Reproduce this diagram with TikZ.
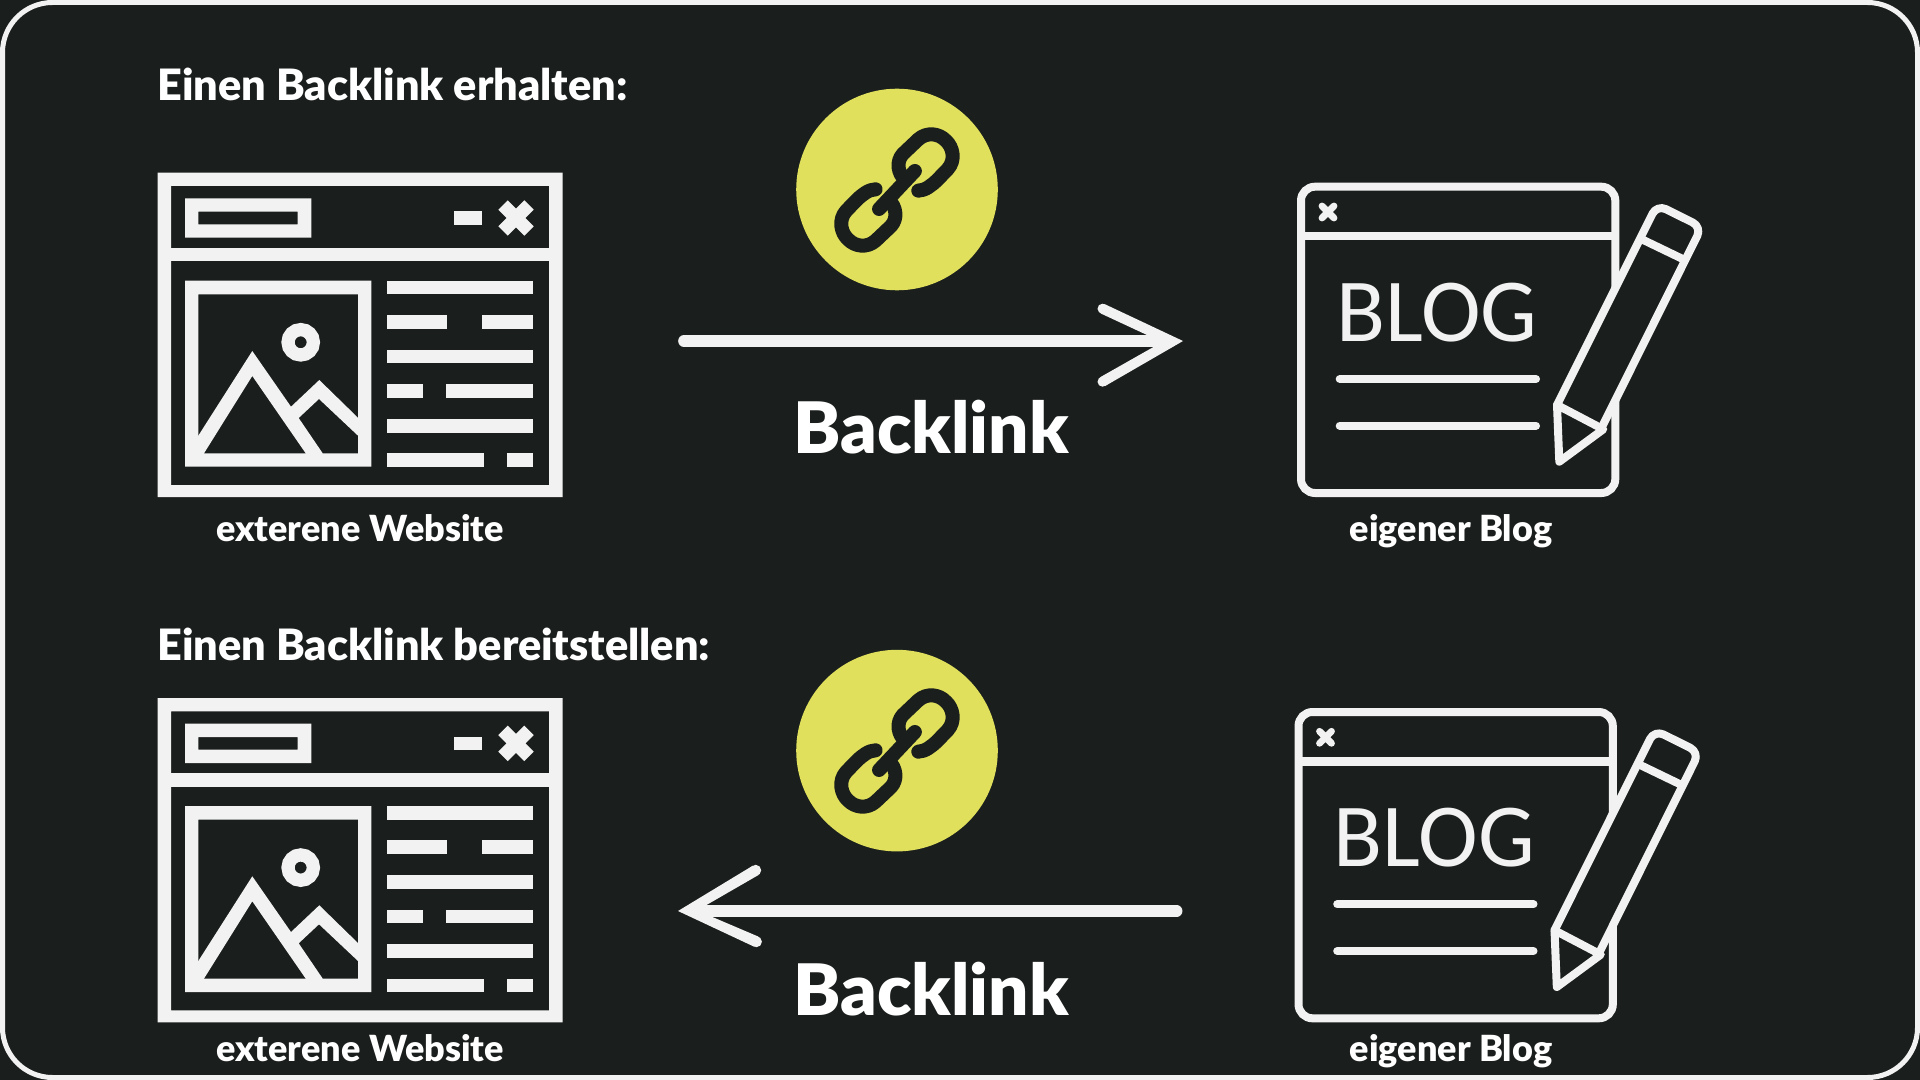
\documentclass[tikz,border=0pt]{standalone}
\usepackage{fontspec}
\setmainfont{Lato}[BoldFont={Lato Black}]
\definecolor{bgc}{HTML}{1A1E1D}
\definecolor{fgc}{HTML}{F2F2F2}
\definecolor{yel}{HTML}{E0E05C}
\newcommand{\zz}[1]{\fontsize{#1}{#1}\selectfont}
\tikzset{
 thin/.style={fgc,line width=4pt,line cap=round,line join=round},
 ttl/.style={anchor=base west,inner sep=0,text=white,font=\bfseries\zz{21.6}},
 lab/.style={anchor=base,inner sep=0,text=white,font=\bfseries\zz{18}},
 big/.style={anchor=base,inner sep=0,text=white,font=\bfseries\zz{35.5}},
 blogt/.style={anchor=base,inner sep=0,text=fgc,font=\fontspec{Carlito}\zz{45}},
 shaft/.style={fgc,line width=5.85pt,line cap=round},
 pics/website/.style={code={
  \fill[fgc,even odd rule] (157.5,172.7) rectangle (562.7,497) (171,186) rectangle (549,485);
  \fill[fgc] (171,248) rectangle (549,261.3);
  \fill[fgc,even odd rule] (185,198.3) rectangle (311.3,237.7) (198.3,211.7) rectangle (297.7,224.3);
  \fill[fgc] (454,211.3) rectangle (481.7,224.7);
  \draw[fgc,line width=6.7pt] (503,205) -- (529,231) (529,205) -- (503,231);
  \fill[fgc,even odd rule] (185,280.7) rectangle (371.3,466.7) (198.3,294.3) rectangle (358,453.3);
  \foreach \ya/\yb/\xa/\xb in {280.7/294.3/387/533,315/328.7/387/446.7,315/328.7/482/533,349.7/363.3/387/533,384.3/398/387/423.3,384.3/398/446.3/533,419/432.7/387/533,453.3/466.7/387/484,453.3/466.7/507/533}
   \fill[fgc] (\xa,\ya) rectangle (\xb,\yb);
  \draw[fgc,line width=6.6pt] (300.7,342.3) circle (12.7);
  \fill[fgc] (196,437) -- (198.3,435.7) -- (252.3,351) -- (291,406.7) -- (319.3,380) -- (360,419.7) -- (360,437.5) -- (358,435.7) -- (319,399) -- (298.7,418) -- (322.7,453.3) -- (322.7,456) -- (305.7,456) -- (305.7,453.3) -- (252.3,376) -- (204,453.3) -- (204,456) -- (196,456) -- cycle;
 }},
 pics/blogicon/.style={code={
  \draw[fgc,line width=4pt,rounded corners=7pt] (1301,186.7) rectangle (1615.3,493);
  \draw[fgc,line width=4.2pt] (1301,236.3) -- (1615.3,236.3);
  \draw[fgc,line width=3.4pt,line cap=round] (1322,206) -- (1334,218) (1334,206) -- (1322,218);
  \draw[thin] (1339.7,379) -- (1536,379) (1339.7,425.7) -- (1536,425.7);
  \fill[bgc] (1557,405) -- (1657,204.7) -- (1701.7,227) -- (1601.3,428.3) -- cycle;
  \draw[thin,rounded corners=5pt] (1557,405) -- (1657,204.7) -- (1701.7,227) -- (1601.3,428.3);
  \draw[thin,fill=bgc] (1557,405) -- (1559.3,461.7) -- (1603.3,429.3) -- cycle;
  \draw[thin] (1643.3,240) -- (1683.3,259.3);
 }},
 pics/chain/.style={code={
  \begin{scope}[xscale=0.3444,yscale=0.3333,bgc,line width=7pt,line cap=round,line join=round]
   \draw (750,362) .. controls (770,362) and (790,345) .. (805,330) -- (835,298) .. controls (860,270) and (850,230) .. (830,212) .. controls (810,190) and (775,185) .. (750,208) -- (705,252) .. controls (685,275) and (690,310) .. (712,330);
   \draw (626,358) .. controls (606,358) and (586,375) .. (571,390) -- (541,422) .. controls (516,450) and (526,490) .. (546,508) .. controls (566,530) and (601,535) .. (626,512) -- (671,468) .. controls (691,445) and (686,410) .. (664,390);
   \draw (740,303) -- (636,417);
  \end{scope}
 }},
 pics/headr/.style={code={
  \fill[fgc] (1183,341) -- (1104.8,386.2) -- (1100.2,377.2) -- (1154,346.7) -- (1147,335) -- (1100.6,313.4) -- (1104.4,304) -- cycle;
  \fill[fgc] (1102.5,308.7) circle (5) (1102.5,381.7) circle (5);
 }},
 pics/headl/.style={code={
  \fill[fgc] (678,911) -- (753.1,865.5) -- (758.3,875.1) -- (706.5,905) -- (711.7,916.7) -- (758.4,936.6) -- (754.4,946.8) -- cycle;
  \fill[fgc] (755.7,870.3) circle (5.5) (756.4,941.7) circle (5.5);
 }}
}
\begin{document}
\begin{tikzpicture}[x=0.5pt,y=-0.5pt]
\useasboundingbox (0,0) rectangle (1920,1080);
\fill[bgc] (0,0) rectangle (1920,1080);
\draw[fgc,line width=2.5pt,rounded corners=25pt] (2.5,2.5) rectangle (1917.5,1077.5);
\node[ttl] (t1) at (157,100.5) {Einen Backlink erhalten:};
\node[ttl] (t2) at (157,660) {Einen Backlink bereitstellen:};
\pic at (0,0) {website};
\pic at (0,525.3) {website};
\pic at (0,0) {blogicon};
\pic at (-2.5,525.3) {blogicon};
\node[blogt] (b1) at (1437,341.5) {BLOG};
\node[blogt] (b2) at (1434.5,866.8) {BLOG};
\node[lab] (l1) at (360,541) {exterene Website};
\node[lab] (l2) at (360,1061) {exterene Website};
\node[lab] (l3) at (1451,541) {eigener Blog};
\node[lab] (l4) at (1451,1061) {eigener Blog};
\node[big] (k1) at (931,453.5) {Backlink};
\node[big] (k2) at (931,1015.5) {Backlink};
\node[circle,fill=yel,minimum size=100.8pt,inner sep=0] (c1) at (897,189.5) {};
\node[circle,fill=yel,minimum size=100.8pt,inner sep=0] (c2) at (897,750.6) {};
\pic at (660,70) {chain};
\pic at (660,631) {chain};
\coordinate (a1s) at (684,341);
\coordinate (a1e) at (1160,341);
\coordinate (a2s) at (1176.6,911);
\coordinate (a2e) at (700,911);
\draw[shaft] (a1s) -- (a1e);
\draw[shaft] (a2s) -- (a2e);
\pic at (0,0) {headr};
\pic at (0,0) {headl};
\end{tikzpicture}
\end{document}
